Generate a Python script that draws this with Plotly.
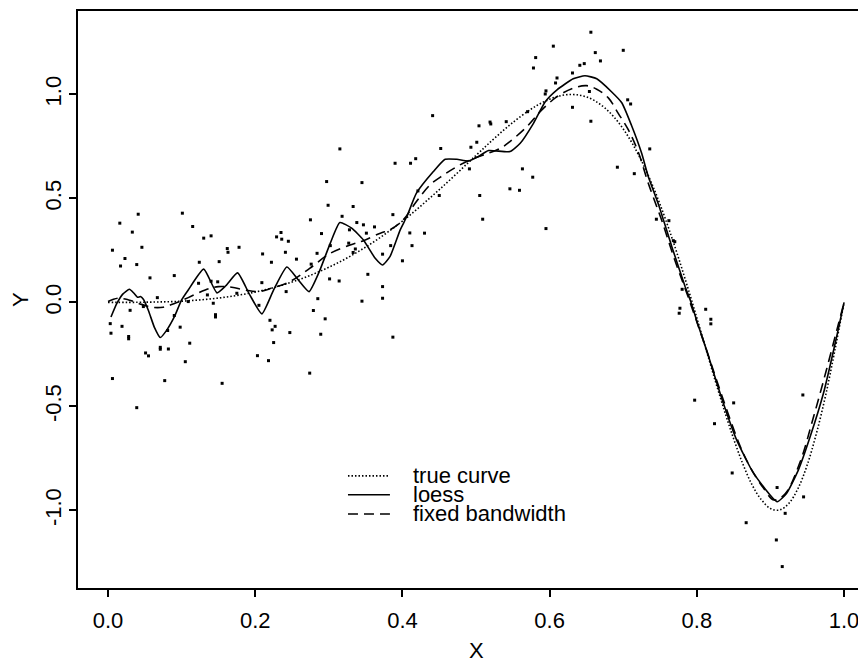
import plotly.graph_objects as go

# ---- scatter data ----
pts_x = [0.041, 0.101, 0.016, 0.115, 0.033, 0.130, 0.006, 0.046, 0.023, 0.017, 0.039, 0.124, 0.057, 0.090, 0.123,
         0.067, 0.109, 0.048, 0.030, 0.090, 0.003, 0.019, 0.098, 0.004, 0.028, 0.028, 0.081, 0.111, 0.071, 0.071,
         0.082, 0.051, 0.055, 0.105, 0.006, 0.077, 0.039,
         0.140, 0.162, 0.163, 0.178, 0.151, 0.210, 0.222, 0.229, 0.235, 0.236, 0.245, 0.241, 0.256, 0.140, 0.149,
         0.135, 0.143, 0.146, 0.146, 0.175, 0.209, 0.205, 0.242, 0.220, 0.223, 0.227, 0.247, 0.225, 0.203, 0.218, 0.155,
         0.315, 0.390, 0.297, 0.345, 0.299, 0.333, 0.387, 0.275, 0.318, 0.290, 0.328, 0.338, 0.347, 0.362, 0.351,
         0.302, 0.327, 0.284, 0.336, 0.333, 0.384, 0.373, 0.276, 0.301, 0.314, 0.353, 0.373, 0.285, 0.345, 0.373,
         0.279, 0.295, 0.289, 0.387, 0.274,
         0.441, 0.504, 0.519, 0.520, 0.501, 0.493, 0.452, 0.411, 0.418, 0.491, 0.450, 0.505, 0.509, 0.410, 0.430,
         0.413, 0.400, 0.421,
         0.541, 0.546, 0.559, 0.563, 0.577, 0.570, 0.595, 0.581, 0.578, 0.605, 0.610, 0.608, 0.595, 0.594, 0.631,
         0.631, 0.641, 0.647, 0.656, 0.662, 0.669, 0.654, 0.656, 0.700, 0.706, 0.710, 0.736, 0.692, 0.715, 0.745,
         0.762, 0.768, 0.770, 0.780, 0.777, 0.776, 0.812, 0.819, 0.819,
         0.797, 0.850, 0.824, 0.944, 0.848, 0.909, 0.945, 0.920, 0.867, 0.908, 0.916]
pts_y = [0.424, 0.429, 0.381, 0.365, 0.338, 0.309, 0.251, 0.265, 0.211, 0.175, 0.182, 0.193, 0.118, 0.129, 0.092,
         0.023, 0.004, -0.020, -0.038, -0.063, -0.102, -0.115, -0.119, -0.148, -0.164, -0.175, -0.135, -0.196, -0.216, -0.225,
         -0.224, -0.243, -0.257, -0.285, -0.366, -0.376, -0.506,
         0.320, 0.259, 0.241, 0.265, 0.196, 0.233, 0.193, 0.315, 0.336, 0.304, 0.294, 0.241, 0.208, 0.102, 0.099,
         0.036, -0.004, -0.059, -0.070, 0.044, 0.095, -0.014, 0.052, -0.086, -0.132, -0.115, -0.145, -0.193, -0.256, -0.280, -0.389,
         0.738, 0.669, 0.581, 0.576, 0.467, 0.461, 0.422, 0.397, 0.414, 0.331, 0.349, 0.384, 0.373, 0.363, 0.333,
         0.273, 0.285, 0.236, 0.257, 0.240, 0.273, 0.232, 0.184, 0.113, 0.103, 0.135, 0.076, 0.018, 0.006, 0.020,
         -0.039, -0.079, -0.153, -0.167, -0.340,
         0.898, 0.849, 0.867, 0.858, 0.770, 0.746, 0.740, 0.669, 0.691, 0.642, 0.514, 0.514, 0.400, 0.334, 0.333,
         0.273, 0.200, 0.536,
         0.869, 0.546, 0.539, 0.642, 0.602, 0.917, 0.355, 1.177, 1.127, 1.232, 1.079, 1.055, 1.017, 1.002, 1.103,
         0.938, 1.140, 1.148, 1.299, 1.201, 1.161, 1.014, 0.871, 1.212, 0.974, 0.954, 0.738, 0.650, 0.619, 0.400,
         0.393, 0.297, 0.292, 0.063, -0.028, -0.052, -0.033, -0.081, -0.103,
         -0.470, -0.483, -0.583, -0.445, -0.820, -0.890, -0.935, -1.014, -1.059, -1.142, -1.270]

# ---- true curve (dotted) ----
true_x = [0.0, 0.05, 0.1, 0.15, 0.2, 0.25, 0.3, 0.35, 0.4, 0.45, 0.5, 0.525, 0.55, 0.575, 0.5875, 0.6, 0.6125,
          0.625, 0.6375, 0.65, 0.6625, 0.675, 0.6875, 0.7, 0.7125, 0.725, 0.7375, 0.75, 0.7625, 0.775, 0.7875,
          0.8, 0.8125, 0.825, 0.8375, 0.85, 0.8625, 0.875, 0.8875, 0.9, 0.9125, 0.925, 0.9375, 0.95, 0.9625,
          0.975, 0.9875, 1.0]
true_y = [0.0, 0.001, 0.006, 0.021, 0.050, 0.098, 0.169, 0.266, 0.391, 0.542, 0.707, 0.789, 0.865, 0.930, 0.956,
          0.977, 0.992, 0.999, 0.998, 0.988, 0.967, 0.935, 0.891, 0.834, 0.763, 0.679, 0.582, 0.471, 0.348, 0.215,
          0.073, -0.075, -0.226, -0.377, -0.521, -0.656, -0.777, -0.877, -0.948, -0.991, -0.998, -0.966, -0.894,
          -0.781, -0.629, -0.446, -0.230, 0.0]

# ---- loess (solid) ----
loess_x = [0.004, 0.012, 0.020, 0.029, 0.035, 0.040, 0.044, 0.048, 0.055, 0.063, 0.071, 0.080, 0.090, 0.100,
           0.109, 0.130, 0.148, 0.160, 0.176, 0.192, 0.209, 0.225, 0.243, 0.258, 0.273, 0.287, 0.302, 0.315,
           0.331, 0.347, 0.363, 0.373, 0.383, 0.397, 0.406, 0.419, 0.442, 0.458, 0.474, 0.490, 0.503, 0.517,
           0.546, 0.560, 0.578, 0.594, 0.610, 0.632, 0.648, 0.664, 0.684, 0.698, 0.711, 0.725, 0.734, 0.748,
           0.766, 0.784, 0.791, 0.800, 0.813, 0.836, 0.854, 0.877, 0.909, 0.922, 0.938, 0.954, 0.972, 0.990, 1.0]
loess_y = [-0.070, -0.005, 0.040, 0.063, 0.045, 0.025, 0.028, 0.015, -0.040, -0.120, -0.169, -0.132, -0.070, 0.012,
           0.060, 0.160, 0.046, 0.080, 0.142, 0.040, -0.055, 0.060, 0.170, 0.110, 0.052, 0.148, 0.285, 0.384,
           0.357, 0.300, 0.212, 0.180, 0.220, 0.349, 0.413, 0.525, 0.629, 0.688, 0.688, 0.680, 0.701, 0.730,
           0.725, 0.765, 0.861, 0.965, 1.022, 1.075, 1.090, 1.075, 1.013, 0.960, 0.853, 0.717, 0.605, 0.469,
           0.268, 0.076, 0.012, -0.090, -0.228, -0.485, -0.661, -0.821, -0.958, -0.917, -0.805, -0.645, -0.437, -0.164, 0.0]

# ---- fixed bandwidth (dashed) ----
fixed_x = [0.0, 0.014, 0.028, 0.041, 0.059, 0.075, 0.091, 0.109, 0.132, 0.150, 0.168, 0.186, 0.204, 0.222, 0.247,
           0.274, 0.302, 0.329, 0.347, 0.370, 0.383, 0.401, 0.419, 0.4375, 0.456, 0.474, 0.492, 0.510, 0.533,
           0.546, 0.569, 0.587, 0.610, 0.632, 0.650, 0.664, 0.680, 0.693, 0.707, 0.721, 0.734, 0.752, 0.770,
           0.788, 0.813, 0.836, 0.859, 0.872, 0.890, 0.905, 0.920, 0.940, 0.958, 0.976, 0.992, 1.0]
fixed_y = [0.004, 0.020, 0.012, -0.004, -0.023, -0.023, -0.004, 0.023, 0.060, 0.076, 0.073, 0.060, 0.052, 0.068, 0.100,
           0.164, 0.236, 0.276, 0.297, 0.333, 0.349, 0.397, 0.485, 0.565, 0.613, 0.653, 0.685, 0.709, 0.741,
           0.773, 0.845, 0.917, 0.989, 1.030, 1.042, 1.025, 0.982, 0.910, 0.829, 0.717, 0.573, 0.397, 0.204,
           0.028, -0.228, -0.469, -0.693, -0.789, -0.890, -0.950, -0.920, -0.770, -0.557, -0.325, -0.108, 0.0]

x_tickvals = [0.0, 0.2, 0.4, 0.6, 0.8, 1.0]
x_ticktext = ["0.0", "0.2", "0.4", "0.6", "0.8", "1.0"]
y_tickvals = [-1.0, -0.5, 0.0, 0.5, 1.0]
y_ticktext = ["-1.0", "-0.5", "0.0", "0.5", "1.0"]
legend_labels = ["true curve", "loess", "fixed bandwidth"]

FONT = "Liberation Sans, Arial, Helvetica, sans-serif"
FS = 22
LW = 1.6
DOT = "1.5px,2px"
DASH = "10px,6px"

fig = go.Figure()
fig.add_trace(go.Scatter(x=pts_x, y=pts_y, mode="markers",
                         marker=dict(symbol="square", size=3, color="black", line=dict(width=0)),
                         hoverinfo="skip"))
fig.add_trace(go.Scatter(x=true_x, y=true_y, mode="lines",
                         line=dict(color="black", width=LW, dash=DOT, shape="spline")))
fig.add_trace(go.Scatter(x=loess_x, y=loess_y, mode="lines",
                         line=dict(color="black", width=LW, shape="spline", smoothing=0.5)))
fig.add_trace(go.Scatter(x=fixed_x, y=fixed_y, mode="lines",
                         line=dict(color="black", width=LW, dash=DASH, shape="spline")))

# legend (drawn manually, R style, no box)
leg_y = [-0.834, -0.925, -1.017]
leg_dash = [DOT, "solid", DASH]
for lab, ly, d in zip(legend_labels, leg_y, leg_dash):
    fig.add_shape(type="line", xref="x", yref="y", x0=0.326, x1=0.383, y0=ly, y1=ly,
                  line=dict(color="black", width=LW, dash=d))
    fig.add_annotation(x=0.412, y=ly, xref="x", yref="y", text=lab, showarrow=False,
                       xanchor="left", yanchor="middle", font=dict(family=FONT, size=FS, color="black"))

# axis titles
fig.add_annotation(x=0.5057, y=-0.1075, xref="paper", yref="paper", text="X", showarrow=False,
                   xanchor="center", yanchor="middle", font=dict(family=FONT, size=FS, color="black"))
fig.add_annotation(x=-0.0736, y=0.499, xref="paper", yref="paper", text="Y", showarrow=False,
                   textangle=-90, xanchor="center", yanchor="middle",
                   font=dict(family=FONT, size=FS, color="black"))

# page body has an 8px margin: figure is 8px smaller so it sits flush with the window
fig.update_layout(
    width=858, height=652,
    margin=dict(l=70, r=0, t=3, b=72),
    paper_bgcolor="white", plot_bgcolor="white",
    showlegend=False,
    font=dict(family=FONT, size=FS, color="black"),
    xaxis=dict(range=[-0.0408, 1.0298], showgrid=False, zeroline=False,
               showline=True, linecolor="black", linewidth=1.5, mirror=True,
               ticks="outside", ticklen=7, tickwidth=1.5, tickcolor="black",
               tickvals=x_tickvals, ticktext=x_ticktext, ticklabelstandoff=5,
               tickfont=dict(family=FONT, size=FS, color="black")),
    yaxis=dict(range=[-1.373, 1.401], showgrid=False, zeroline=False,
               showline=True, linecolor="black", linewidth=1.5,
               ticks="outside", ticklen=7, tickwidth=1.5, tickcolor="black",
               tickvals=y_tickvals, ticktext=y_ticktext, tickangle=-90, ticklabelstandoff=-1,
               tickfont=dict(family=FONT, size=FS, color="black")),
)

fig.write_html("out.html")
